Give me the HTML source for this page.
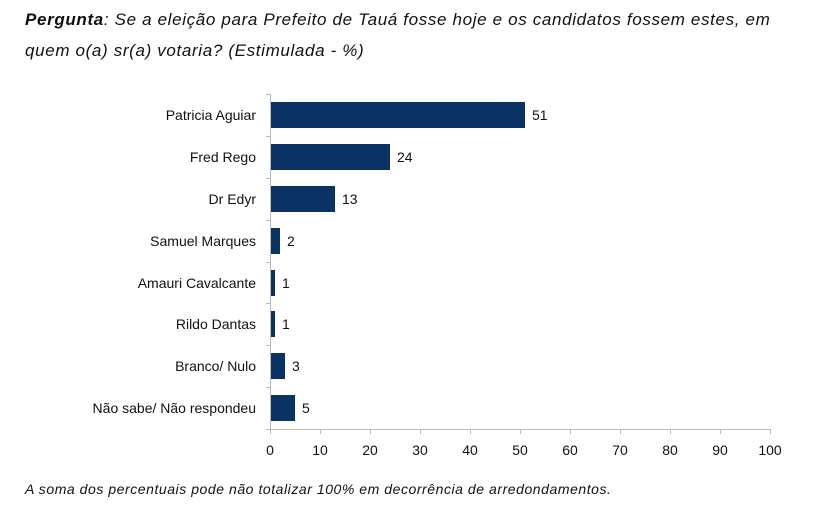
<!DOCTYPE html>
<html><head><meta charset="utf-8"><style>
body{margin:0;background:#fff;width:832px;height:517px;overflow:hidden;font-family:"Liberation Sans",sans-serif}
.t{position:absolute;left:25px;font-style:italic;font-size:17px;letter-spacing:0.65px;color:#111;white-space:nowrap}
</style></head><body>
<div class="t" style="top:10px"><b>Pergunta</b>: Se a eleição para Prefeito de Tauá fosse hoje e os candidatos fossem estes, em</div>
<div class="t" style="top:41px">quem o(a) sr(a) votaria? (Estimulada - %)</div>
<svg width="832" height="517" style="position:absolute;left:0;top:0" font-family="Liberation Sans, sans-serif" font-size="14" fill="#111">
<g stroke="#bbb" stroke-width="1">
<line x1="270.5" y1="94" x2="270.5" y2="429"/>
<line x1="266" y1="429.5" x2="770" y2="429.5"/>
<line x1="266" y1="94.5" x2="270" y2="94.5"/><line x1="266" y1="136.5" x2="270" y2="136.5"/><line x1="266" y1="178.5" x2="270" y2="178.5"/><line x1="266" y1="220.5" x2="270" y2="220.5"/><line x1="266" y1="262.5" x2="270" y2="262.5"/><line x1="266" y1="303.5" x2="270" y2="303.5"/><line x1="266" y1="345.5" x2="270" y2="345.5"/><line x1="266" y1="387.5" x2="270" y2="387.5"/>
<line x1="320.5" y1="429" x2="320.5" y2="434"/><line x1="370.5" y1="429" x2="370.5" y2="434"/><line x1="420.5" y1="429" x2="420.5" y2="434"/><line x1="470.5" y1="429" x2="470.5" y2="434"/><line x1="520.5" y1="429" x2="520.5" y2="434"/><line x1="570.5" y1="429" x2="570.5" y2="434"/><line x1="620.5" y1="429" x2="620.5" y2="434"/><line x1="670.5" y1="429" x2="670.5" y2="434"/><line x1="720.5" y1="429" x2="720.5" y2="434"/><line x1="770.5" y1="429" x2="770.5" y2="434"/><line x1="270.5" y1="429" x2="270.5" y2="434"/>
</g>
<g fill="#0b3264">
<rect x="271" y="102" width="254" height="26"/>
<rect x="271" y="144" width="119" height="26"/>
<rect x="271" y="186" width="64" height="26"/>
<rect x="271" y="228" width="9" height="26"/>
<rect x="271" y="270" width="4" height="26"/>
<rect x="271" y="311" width="4" height="26"/>
<rect x="271" y="353" width="14" height="26"/>
<rect x="271" y="395" width="24" height="26"/>
</g>
<g text-anchor="end">
<text x="256" y="120">Patricia Aguiar</text>
<text x="256" y="162">Fred Rego</text>
<text x="256" y="204">Dr Edyr</text>
<text x="256" y="246">Samuel Marques</text>
<text x="256" y="288">Amauri Cavalcante</text>
<text x="256" y="329">Rildo Dantas</text>
<text x="256" y="371">Branco/ Nulo</text>
<text x="256" y="413">Não sabe/ Não respondeu</text>
</g>
<text x="532" y="120">51</text><text x="397" y="162">24</text><text x="342" y="204">13</text><text x="287" y="246">2</text><text x="282" y="288">1</text><text x="282" y="329">1</text><text x="292" y="371">3</text><text x="302" y="413">5</text>
<g text-anchor="middle">
<text x="270" y="455">0</text><text x="320" y="455">10</text><text x="370" y="455">20</text><text x="420" y="455">30</text><text x="470" y="455">40</text><text x="520" y="455">50</text><text x="570" y="455">60</text><text x="620" y="455">70</text><text x="670" y="455">80</text><text x="720" y="455">90</text><text x="770" y="455">100</text>
</g>
<text x="25" y="494" font-style="italic" font-size="14" letter-spacing="0.55">A soma dos percentuais pode não totalizar 100% em decorrência de arredondamentos.</text>
</svg>
</body></html>
